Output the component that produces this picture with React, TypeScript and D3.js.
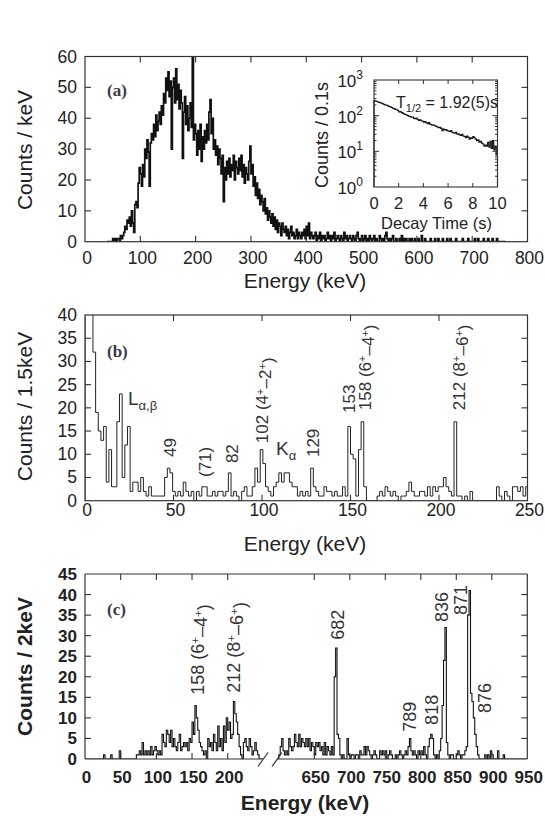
import React from 'react';
import * as d3 from 'd3';

// ---------------- data ----------------
// (a) energy spectrum, 2 keV bins starting at 40 keV, counts / keV
const aBinStart = 40;
const aBinWidth = 2;
const aCounts = [
  0, 0, 0, 0, 0, 1, 0, 1, 0, 1,
  1, 0, 2, 1, 2, 3, 5, 4, 7, 6,
  8, 5, 10, 6, 3, 12, 13, 11, 19, 24,
  22, 18, 25, 21, 30, 27, 33, 29, 18, 32,
  35, 33, 38, 34, 41, 36, 39, 42, 38, 44,
  41, 48, 45, 53, 49, 55, 47, 52, 30, 50,
  53, 45, 56, 46, 51, 43, 49, 45, 27, 42,
  47, 38, 44, 36, 40, 45, 37, 60, 33, 38,
  35, 28, 36, 30, 38, 26, 34, 30, 36, 32,
  38, 33, 42, 46, 35, 40, 30, 33, 28, 31,
  25, 30, 27, 22, 28, 13, 24, 20, 26, 22,
  27, 21, 25, 23, 28, 20, 26, 24, 22, 27,
  23, 28, 21, 25, 19, 24, 22, 20, 26, 31,
  22, 25, 18, 21, 15, 19, 14, 17, 12, 15,
  13, 10, 14, 9, 11, 7, 10, 8, 6, 9,
  5, 8, 4, 7, 3, 6, 5, 2, 6, 4,
  3, 5, 2, 4, 1, 3, 5, 2, 3, 1,
  2, 4, 1, 3, 2, 1, 3, 2, 4, 1,
  5, 2, 6, 1, 3, 2, 1, 2, 3, 0,
  2, 1, 3, 0, 2, 1, 2, 0, 1, 3,
  1, 2, 0, 2, 1, 3, 0, 1, 2, 1,
  0, 2, 1, 0, 3, 1, 2, 0, 1, 2,
  1, 0, 2, 1, 0, 2, 3, 1, 0, 1,
  2, 0, 1, 2, 0, 1, 0, 2, 1, 0,
  1, 2, 0, 1, 0, 0, 2, 1, 0, 1,
  0, 2, 3, 1, 0, 1, 0, 1, 2, 0,
  0, 1, 0, 0, 1, 0, 2, 0, 1, 0,
  1, 0, 0, 1, 0, 1, 0, 0, 1, 0,
  0, 1, 0, 0, 2, 0, 0, 1, 0, 0,
  0, 0, 1, 0, 0, 0, 1, 0, 0, 1,
  0, 0, 0, 1, 0, 0, 0, 1, 0, 0,
  1, 0, 0, 0, 0, 1, 0, 0, 0, 0,
  0, 1, 0, 0, 0, 0, 1, 0, 0, 0,
  0, 0, 1, 0, 0, 1, 0, 0, 0, 0,
  1, 0, 0, 0, 1, 0, 0, 0, 1, 0,
  0, 0, 1, 0, 0, 0, 0, 0, 0, 0,
];
const aXTicks = [0, 100, 200, 300, 400, 500, 600, 700, 800];
const aYTicks = [0, 10, 20, 30, 40, 50, 60];

// inset: decay curve, 0.1 s bins
const decayBinWidth = 0.1;
const decayCounts = [
  262, 255, 250, 241, 236, 228, 222, 214, 205, 198,
  196, 188, 180, 176, 170, 162, 158, 150, 146, 140,
  128, 130, 122, 118, 112, 108, 104, 100, 96, 94,
  90, 92, 84, 82, 86, 78, 74, 76, 72, 70,
  66, 68, 63, 60, 64, 58, 56, 54, 55, 52,
  50, 48, 46, 47, 44, 38, 42, 40, 41, 38,
  37, 36, 38, 34, 33, 32, 34, 30, 31, 29,
  28, 30, 27, 26, 24, 27, 25, 22, 24, 23,
  26, 24, 22, 20, 21, 18, 19, 17, 16, 14,
  15, 14, 18, 13, 19, 12, 20, 11, 14, 8,
];
const decayXTicks = [0, 2, 4, 6, 8, 10];
const decayYExponents = [0, 1, 2, 3];

// (b) 1.5 keV bins from 0
const bBinWidth = 1.5;
const bCounts = [
  45, 45, 45, 32, 19, 15, 13, 16, 4, 11,
  3, 3, 17, 23, 5, 12, 16, 2, 4, 4,
  2, 5, 2, 1, 3, 1, 1, 1, 1, 1,
  5, 7, 6, 2, 1, 2, 1, 4, 2, 1,
  2, 0, 2, 1, 3, 3, 1, 1, 2, 1,
  2, 2, 1, 2, 6, 1, 2, 1, 0, 2,
  3, 1, 1, 3, 7, 4, 11, 8, 3, 2,
  1, 3, 4, 6, 4, 6, 6, 4, 3, 3,
  1, 2, 1, 2, 1, 7, 3, 2, 1, 1,
  3, 2, 2, 1, 2, 1, 1, 3, 1, 16,
  10, 9, 1, 11, 17, 3, 0, 0, 0, 0,
  1, 2, 1, 3, 2, 1, 2, 1, 0, 1,
  1, 2, 4, 2, 1, 1, 2, 2, 1, 3,
  1, 3, 2, 3, 3, 5, 3, 2, 1, 17,
  1, 1, 0, 1, 0, 2, 0, 0, 0, 0,
  0, 0, 0, 0, 0, 3, 1, 0, 2, 1,
  0, 3, 3, 2, 3, 1, 3,
];
const bXTicks = [0, 50, 100, 150, 200, 250];
const bYTicks = [0, 5, 10, 15, 20, 25, 30, 35, 40];

// (c) 2 keV bins, two energy ranges
const cBinWidth = 2;
const cLowStart = 0;
const cLowCounts = [
  0, 0, 0, 0, 0, 0, 0, 0, 0, 0,
  0, 0, 0, 1, 0, 0, 0, 0, 1, 0,
  0, 0, 0, 0, 2, 0, 0, 0, 0, 0,
  0, 0, 0, 0, 0, 0, 1, 1, 2, 1,
  4, 1, 2, 1, 2, 1, 3, 1, 2, 3,
  2, 1, 2, 1, 6, 4, 3, 7, 6, 4,
  7, 3, 5, 3, 2, 4, 6, 2, 3, 4,
  3, 4, 2, 5, 4, 9, 6, 13, 10, 7,
  4, 3, 2, 1, 2, 0, 5, 3, 4, 2,
  6, 4, 2, 8, 3, 5, 2, 8, 4, 10,
  7, 9, 5, 6, 14, 11, 9, 6, 3, 1,
  0, 4, 5, 3, 2, 5, 3, 1, 2, 4,
  2, 1, 0, 0,
];
const cHighStart = 600;
const cHighCounts = [
  1, 3, 5, 2, 1, 2, 1, 5, 3, 2,
  3, 6, 4, 3, 6, 3, 5, 4, 3, 5,
  3, 5, 2, 4, 3, 1, 4, 3, 4, 2,
  3, 1, 4, 1, 3, 2, 1, 3, 1, 20,
  27, 6, 5, 1, 0, 1, 0, 0, 5, 1,
  0, 1, 1, 0, 1, 1, 0, 2, 1, 1,
  3, 1, 3, 2, 1, 0, 1, 2, 1, 0,
  0, 2, 1, 2, 1, 2, 0, 1, 2, 1,
  0, 0, 1, 0, 1, 2, 1, 0, 1, 2,
  1, 3, 5, 2, 1, 2, 1, 0, 2, 1,
  2, 1, 3, 1, 0, 3, 5, 6, 5, 1,
  0, 1, 0, 2, 5, 13, 24, 32, 4, 1,
  0, 1, 1, 0, 0, 1, 2, 1, 0, 1,
  1, 2, 3, 35, 41, 16, 14, 10, 6, 3,
  1, 0, 0, 0, 0, 1, 0, 1, 0, 2,
  1, 0, 0, 0, 2, 0, 0, 0, 1, 0,
  0, 0, 0, 0, 0, 0, 0, 0, 0, 0, 0, 0, 0, 0, 0,
];
const cXTicksLow = [0, 50, 100, 150, 200];
const cXTicksHigh = [650, 700, 750, 800, 850, 900, 950];
const cYTicks = [0, 5, 10, 15, 20, 25, 30, 35, 40, 45];

// peak annotations: energy of label centre, count level of label bottom
const bPeaks = [
  { e: 48, v: 9.4, label: '49' },
  { e: 67.8, v: 5.1, label: '(71)' },
  { e: 83, v: 8.1, label: '82' },
  { e: 100.2, v: 12.4, label: '102', tr: ['4', '2'] },
  { e: 128.8, v: 9.4, label: '129' },
  { e: 149.1, v: 18.9, label: '153' },
  { e: 158.2, v: 19.5, label: '158', tr: ['6', '4'] },
  { e: 211.2, v: 19.5, label: '212', tr: ['8', '6'] },
];
const cPeaksLow = [
  { e: 158.4, v: 15.6, label: '158', tr: ['6', '4'] },
  { e: 208.8, v: 16.1, label: '212', tr: ['8', '6'] },
];
const cPeaksHigh = [
  { e: 682.7, v: 29, label: '682' },
  { e: 784.8, v: 6.6, label: '789' },
  { e: 815.8, v: 8.3, label: '818' },
  { e: 828.5, v: 33.3, label: '836' },
  { e: 856.6, v: 35, label: '871' },
  { e: 890.4, v: 11.2, label: '876' },
];

// ---------------- helpers ----------------
const SANS = "'Liberation Sans', Arial, Helvetica, sans-serif";
const SERIF = "'Liberation Serif', 'Times New Roman', serif";
const TXT = '#222';
const AX = '#333';

type Sc = (v: number) => number;

function stepPath(x: Sc, y: Sc, start: number, width: number, counts: number[], base = 0) {
  const pts: [number, number][] = [[start, base]];
  counts.forEach((c, i) => pts.push([start + i * width, Math.max(c, base)]));
  const end = start + counts.length * width;
  pts.push([end, Math.max(counts[counts.length - 1], base)]);
  pts.push([end, base]);
  return d3
    .line<[number, number]>()
    .x((d) => x(d[0]))
    .y((d) => y(d[1]))
    .curve(d3.curveStepAfter)(pts) as string;
}

function VText({ x, y, size, children, color = TXT, weight = 400, anchor = 'start' }: any) {
  return (
    <text
      transform={`translate(${x + size * 0.36},${y}) rotate(-90)`}
      fontSize={size}
      fontFamily={SANS}
      fill={color}
      fontWeight={weight}
      textAnchor={anchor}
    >
      {children}
    </text>
  );
}

function Transition({ label, tr }: { label: string; tr?: string[] }) {
  if (!tr) return <>{label}</>;
  return (
    <>
      {label + ' (' + tr[0]}
      <tspan dy="-0.45em" fontSize="0.65em">+</tspan>
      <tspan dy="0.45em">{'\u2013' + tr[1]}</tspan>
      <tspan dy="-0.45em" fontSize="0.65em">+</tspan>
      <tspan dy="0.45em">)</tspan>
    </>
  );
}

function Ticks({ xs, ys, x0, x1, y0, y1, len = 6 }: any) {
  const parts: any[] = [];
  xs.forEach((px: number, i: number) => {
    parts.push(<line key={'xb' + i} x1={px} x2={px} y1={y1} y2={y1 - len} />);
    parts.push(<line key={'xt' + i} x1={px} x2={px} y1={y0} y2={y0 + len} />);
  });
  ys.forEach((py: number, i: number) => {
    parts.push(<line key={'yl' + i} x1={x0} x2={x0 + len} y1={py} y2={py} />);
    parts.push(<line key={'yr' + i} x1={x1} x2={x1 - len} y1={py} y2={py} />);
  });
  return <g stroke={AX} strokeWidth={1.1}>{parts}</g>;
}

export default function App() {
  // ---------- panel (a) ----------
  const A = { l: 85, r: 527.5, t: 56.5, b: 241.7 };
  const ax = d3.scaleLinear().domain([0, 800]).range([A.l, A.r]);
  const ay = d3.scaleLinear().domain([0, 60]).range([A.b, A.t]);

  // inset
  const I = { l: 374, r: 497.5, t: 80, b: 187 };
  const ix = d3.scaleLinear().domain([0, 10]).range([I.l, I.r]);
  const iy = d3.scaleLog().domain([1, 1000]).range([I.b, I.t]);
  const minor: number[] = [];
  [1, 10, 100].forEach((d) => {
    for (let m = 2; m <= 9; m++) minor.push(m * d);
  });

  // ---------- panel (b) ----------
  const B = { l: 85, r: 527.5, t: 315, b: 500.7 };
  const bx = d3.scaleLinear().domain([0, 250]).range([B.l, B.r]);
  const by = d3.scaleLinear().domain([0, 40]).range([B.b, B.t]);

  // ---------- panel (c) ----------
  const C = { l: 85, r: 527.3, t: 574, b: 759 };
  const cxL = d3.scaleLinear().domain([0, 250]).range([C.l, C.l + 250 * 0.7135]);
  const cxH = d3.scaleLinear().domain([650, 950]).range([314.3, C.r]);
  const cy = d3.scaleLinear().domain([0, 45]).range([C.b, C.t]);
  const breakL = 263;
  const breakR = 277;

  const tickFs = 17.5;

  return (
    <svg
      width={545}
      height={816}
      style={{ position: 'absolute', left: 0, top: 0, background: '#fff' }}
      fontFamily={SANS}
    >
      <rect width={545} height={816} fill="#fff" />
      <defs>
        <clipPath id="clipA">
          <rect x={A.l} y={A.t} width={A.r - A.l} height={A.b - A.t} />
        </clipPath>
        <clipPath id="clipB">
          <rect x={B.l} y={B.t} width={B.r - B.l} height={B.b - B.t} />
        </clipPath>
        <clipPath id="clipC">
          <rect x={C.l} y={C.t} width={C.r - C.l} height={C.b - C.t} />
        </clipPath>
      </defs>

      {/* ================= panel (a) ================= */}
      <path
        d={stepPath(ax, ay, aBinStart, aBinWidth, aCounts)}
        fill="none"
        stroke="#111"
        strokeWidth={1.7}
        clipPath="url(#clipA)"
      />
      <rect x={A.l} y={A.t} width={A.r - A.l} height={A.b - A.t} fill="none" stroke={AX} strokeWidth={1.2} />
      <Ticks
        xs={aXTicks.slice(1, -1).map(ax)}
        ys={aYTicks.slice(1, -1).map(ay)}
        x0={A.l}
        x1={A.r}
        y0={A.t}
        y1={A.b}
      />
      {aXTicks.map((t) => (
        <text key={'axl' + t} x={ax(t) + 2} y={264} fontSize={tickFs} textAnchor="middle" fill={TXT}>
          {t}
        </text>
      ))}
      {aYTicks.map((t) => (
        <text key={'ayl' + t} x={77} y={ay(t) + 6} fontSize={tickFs} textAnchor="end" fill={TXT}>
          {t}
        </text>
      ))}
      <text x={305} y={287.5} fontSize={21} textAnchor="middle" fill={TXT}>
        Energy (keV)
      </text>
      <VText x={24} y={150} size={21} anchor="middle">
        Counts / keV
      </VText>
      <text x={107} y={96} fontSize={17} fontWeight={700} fontFamily={SERIF} fill="#3a3a4a">
        (a)
      </text>

      {/* inset */}
      <rect x={I.l} y={I.t} width={I.r - I.l} height={I.b - I.t} fill="#fff" />
      <path
        d={stepPath(ix, iy, 0, decayBinWidth, decayCounts, 1)}
        fill="none"
        stroke="#111"
        strokeWidth={1.1}
      />
      <rect x={I.l} y={I.t} width={I.r - I.l} height={I.b - I.t} fill="none" stroke={AX} strokeWidth={1.1} />
      <g stroke={AX} strokeWidth={1}>
        {decayXTicks.slice(1, -1).map((t) => (
          <g key={'ixt' + t}>
            <line x1={ix(t)} x2={ix(t)} y1={I.b} y2={I.b - 4} />
            <line x1={ix(t)} x2={ix(t)} y1={I.t} y2={I.t + 4} />
          </g>
        ))}
        {decayYExponents.slice(1, -1).map((p) => (
          <g key={'iyt' + p}>
            <line x1={I.l} x2={I.l + 5} y1={iy(10 ** p)} y2={iy(10 ** p)} />
            <line x1={I.r} x2={I.r - 5} y1={iy(10 ** p)} y2={iy(10 ** p)} />
          </g>
        ))}
        {minor.map((m) => (
          <g key={'imn' + m}>
            <line x1={I.l} x2={I.l + 2.5} y1={iy(m)} y2={iy(m)} />
            <line x1={I.r} x2={I.r - 2.5} y1={iy(m)} y2={iy(m)} />
          </g>
        ))}
      </g>
      {decayXTicks.map((t) => (
        <text key={'ixl' + t} x={ix(t)} y={209} fontSize={16.5} textAnchor="middle" fill={TXT}>
          {t}
        </text>
      ))}
      {decayYExponents.map((p) => (
        <text key={'iyl' + p} x={363} y={iy(10 ** p) + 7} fontSize={17} textAnchor="end" fill={TXT}>
          10
          <tspan dy={-8} fontSize={12}>
            {p}
          </tspan>
        </text>
      ))}
      <text x={436.5} y={229} fontSize={16.5} textAnchor="middle" fill={TXT}>
        Decay Time (s)
      </text>
      <VText x={321.5} y={135} size={18} anchor="middle">
        Counts / 0.1s
      </VText>
      <text x={396} y={108} fontSize={16} fill={TXT}>
        T
        <tspan dy={4} fontSize={11}>
          1/2
        </tspan>
        <tspan dy={-4}> = 1.92(5)s</tspan>
      </text>

      {/* ================= panel (b) ================= */}
      <path
        d={stepPath(bx, by, 0, bBinWidth, bCounts)}
        fill="none"
        stroke="#222"
        strokeWidth={1}
        clipPath="url(#clipB)"
      />
      <rect x={B.l} y={B.t} width={B.r - B.l} height={B.b - B.t} fill="none" stroke={AX} strokeWidth={1.2} />
      <Ticks
        xs={bXTicks.slice(1, -1).map(bx)}
        ys={bYTicks.slice(1, -1).map(by)}
        x0={B.l}
        x1={B.r}
        y0={B.t}
        y1={B.b}
      />
      {bXTicks.map((t) => (
        <text key={'bxl' + t} x={bx(t) + 2} y={516} fontSize={tickFs} textAnchor="middle" fill={TXT}>
          {t}
        </text>
      ))}
      {bYTicks.map((t) => (
        <text key={'byl' + t} x={77} y={by(t) + 6} fontSize={tickFs} textAnchor="end" fill={TXT}>
          {t}
        </text>
      ))}
      <text x={305} y={550.5} fontSize={21} textAnchor="middle" fill={TXT}>
        Energy (keV)
      </text>
      <VText x={24} y={406.5} size={21} anchor="middle">
        Counts / 1.5keV
      </VText>
      <text x={107} y={357} fontSize={17} fontWeight={700} fontFamily={SERIF} fill="#3a3a4a">
        (b)
      </text>
      {bPeaks.map((p) => (
        <VText key={'bp' + p.label} x={bx(p.e)} y={by(p.v)} size={17} color="#333">
          <Transition label={p.label} tr={p.tr} />
        </VText>
      ))}
      <text x={bx(24.3)} y={by(20.6)} fontSize={19} fill="#333">
        L
        <tspan dy={5} fontSize={13}>
          α,β
        </tspan>
      </text>
      <text x={bx(107.9)} y={by(9.8)} fontSize={19} fill="#333">
        K
        <tspan dy={5} fontSize={13}>
          α
        </tspan>
      </text>

      {/* ================= panel (c) ================= */}
      <g clipPath="url(#clipC)">
        <path
          d={stepPath(cxL, cy, cLowStart, cBinWidth, cLowCounts)}
          fill="none"
          stroke="#111"
          strokeWidth={1.1}
        />
        <path
          d={stepPath(cxH, cy, cHighStart, cBinWidth, cHighCounts)}
          fill="none"
          stroke="#111"
          strokeWidth={1.1}
        />
      </g>
      <g stroke={AX} strokeWidth={1.2} fill="none">
        <line x1={C.l} x2={C.l} y1={C.t} y2={C.b} />
        <line x1={C.r} x2={C.r} y1={C.t} y2={C.b} />
        <line x1={C.l} x2={C.r} y1={C.t} y2={C.t} />
        <line x1={C.l} x2={breakL} y1={C.b} y2={C.b} />
        <line x1={breakR} x2={C.r} y1={C.b} y2={C.b} />
        <line x1={breakL - 5} x2={breakL + 5} y1={C.b + 7.5} y2={C.b - 6.5} />
        <line x1={breakR - 5} x2={breakR + 5} y1={C.b + 7.5} y2={C.b - 6.5} />
      </g>
      <Ticks
        xs={[...cXTicksLow.slice(1).map(cxL), ...cXTicksHigh.slice(0, -1).map(cxH)]}
        ys={cYTicks.slice(1, -1).map(cy)}
        x0={C.l}
        x1={C.r}
        y0={C.t}
        y1={C.b}
      />
      {cXTicksLow.map((t) => (
        <text key={'cxl' + t} x={cxL(t) + 1.5} y={783} fontSize={17} fontWeight={700} textAnchor="middle" fill={TXT}>
          {t}
        </text>
      ))}
      {cXTicksHigh.map((t) => (
        <text key={'cxh' + t} x={cxH(t) + 1.5} y={783} fontSize={17} fontWeight={700} textAnchor="middle" fill={TXT}>
          {t}
        </text>
      ))}
      {cYTicks.map((t) => (
        <text key={'cyl' + t} x={77} y={cy(t) + 6} fontSize={17} fontWeight={700} textAnchor="end" fill={TXT}>
          {t}
        </text>
      ))}
      <text x={305} y={810} fontSize={21} fontWeight={700} textAnchor="middle" fill={TXT}>
        Energy (keV)
      </text>
      <VText x={24} y={666.5} size={21} anchor="middle" weight={700}>
        Counts / 2keV
      </VText>
      <text x={107} y={615} fontSize={17} fontWeight={700} fontFamily={SERIF} fill="#3a3a4a">
        (c)
      </text>
      {cPeaksLow.map((p) => (
        <VText key={'cl' + p.label} x={cxL(p.e)} y={cy(p.v)} size={18} color="#333">
          <Transition label={p.label} tr={p.tr} />
        </VText>
      ))}
      {cPeaksHigh.map((p) => (
        <VText key={'ch' + p.label} x={cxH(p.e)} y={cy(p.v)} size={18} color="#333">
          {p.label}
        </VText>
      ))}
    </svg>
  );
}
